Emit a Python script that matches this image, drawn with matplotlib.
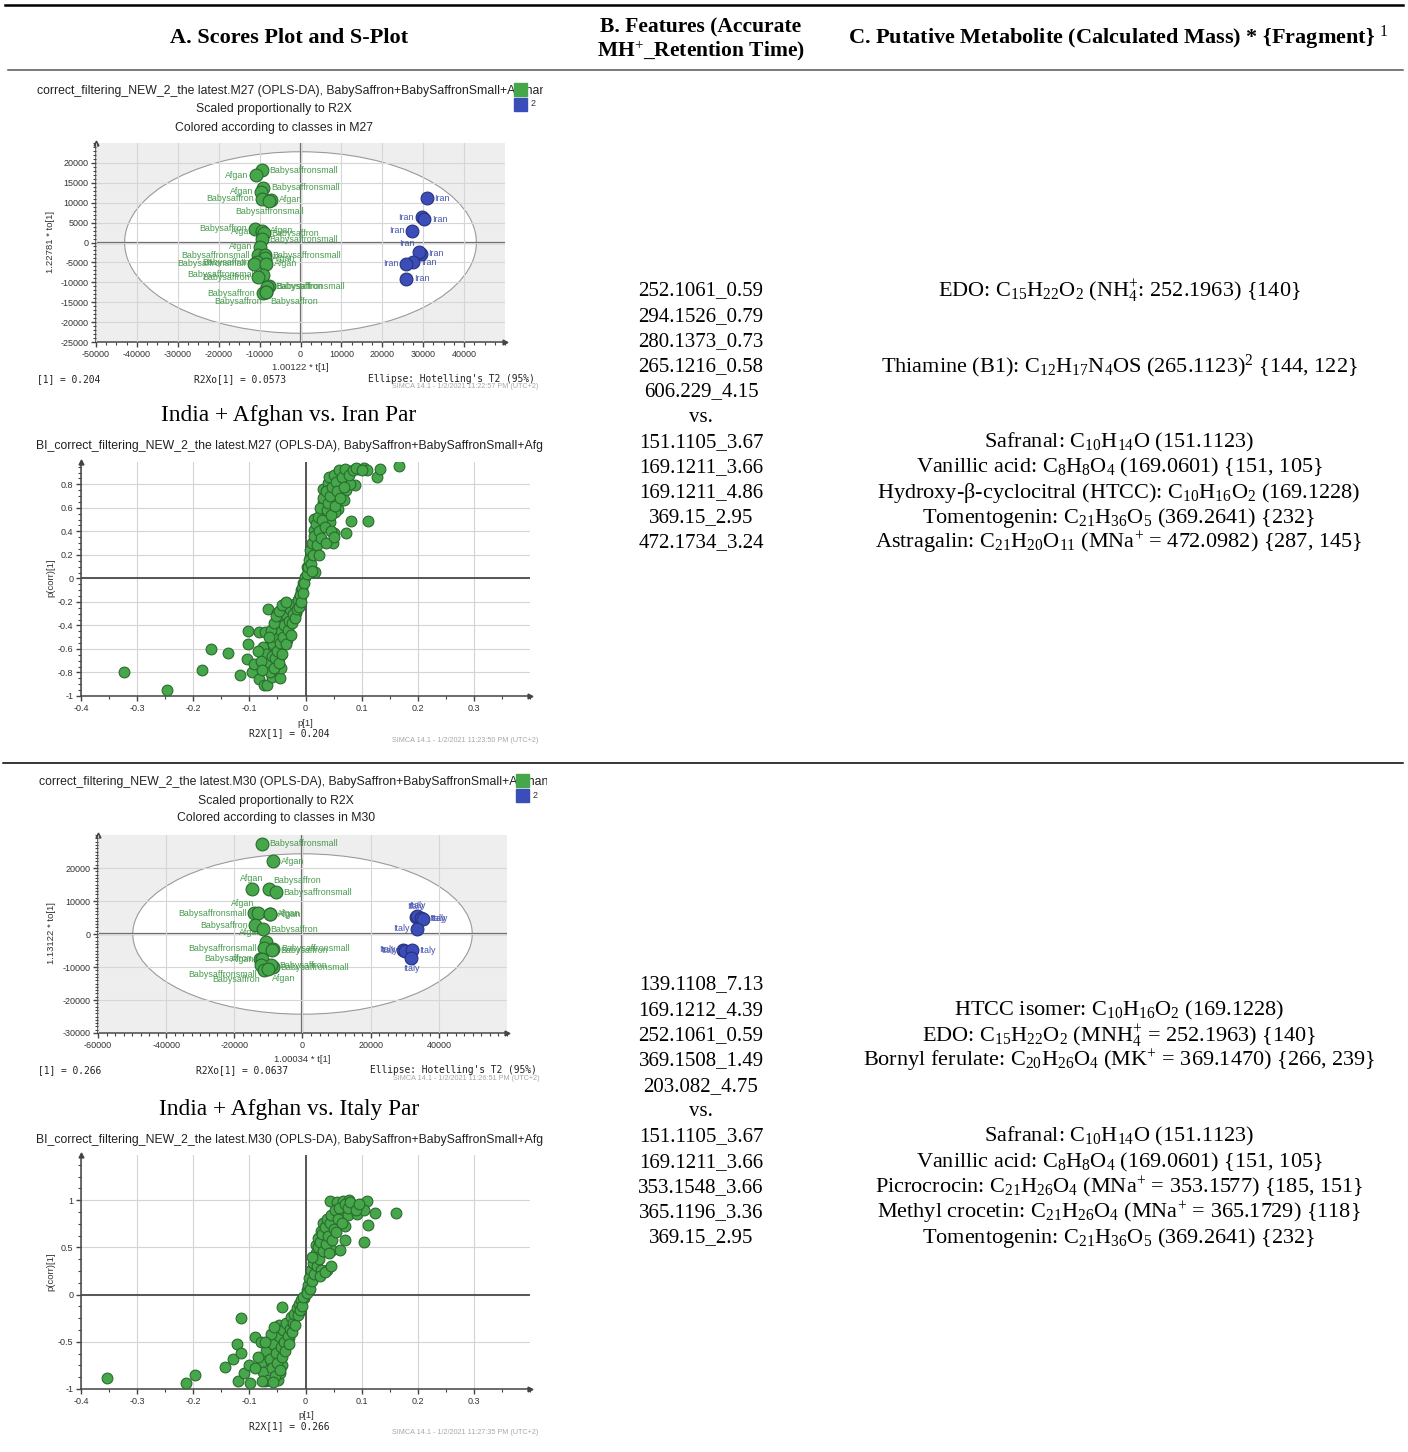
import matplotlib
matplotlib.use("Agg")
import matplotlib.pyplot as plt
import numpy as np
from matplotlib.patches import Ellipse, Rectangle
from matplotlib.lines import Line2D
from matplotlib.ticker import MultipleLocator

W, H = 1408, 1452
plt.rcParams['mathtext.fontset'] = 'custom'
plt.rcParams['mathtext.rm'] = 'Liberation Serif'
plt.rcParams['mathtext.it'] = 'Liberation Serif:italic'
plt.rcParams['mathtext.bf'] = 'Liberation Serif:bold'

SERIF = 'Liberation Serif'
SANS = 'Liberation Sans'
MONO = 'DejaVu Sans Mono'

# ---------------- table text ----------------
headers = ["A. Scores Plot and S-Plot",
           "B. Features (Accurate\nMH$^{+}$_Retention Time)",
           "C. Putative Metabolite (Calculated Mass) * {Fragment} $^{1}$"]
comparisons = ["India + Afghan vs. Iran Par", "India + Afghan vs. Italy Par"]

features_1 = ["252.1061_0.59", "294.1526_0.79", "280.1373_0.73", "265.1216_0.58",
              "606.229_4.15", "vs.", "151.1105_3.67", "169.1211_3.66",
              "169.1211_4.86", "369.15_2.95", "472.1734_3.24"]
metabolites_1 = [r"EDO: C$_{15}$H$_{22}$O$_{2}$ (NH$_{4}^{+}$: 252.1963) {140}", "", "",
                 r"Thiamine (B1): C$_{12}$H$_{17}$N$_{4}$OS (265.1123)$^{2}$ {144, 122}", "", "",
                 r"Safranal: C$_{10}$H$_{14}$O (151.1123)",
                 r"Vanillic acid: C$_{8}$H$_{8}$O$_{4}$ (169.0601) {151, 105}",
                 r"Hydroxy-β-cyclocitral (HTCC): C$_{10}$H$_{16}$O$_{2}$ (169.1228)",
                 r"Tomentogenin: C$_{21}$H$_{36}$O$_{5}$ (369.2641) {232}",
                 r"Astragalin: C$_{21}$H$_{20}$O$_{11}$ (MNa$^{+}$ = 472.0982) {287, 145}"]

features_2 = ["139.1108_7.13", "169.1212_4.39", "252.1061_0.59", "369.1508_1.49",
              "203.082_4.75", "vs.", "151.1105_3.67", "169.1211_3.66",
              "353.1548_3.66", "365.1196_3.36", "369.15_2.95"]
metabolites_2 = ["", r"HTCC isomer: C$_{10}$H$_{16}$O$_{2}$ (169.1228)",
                 r"EDO: C$_{15}$H$_{22}$O$_{2}$ (MNH$_{4}^{+}$ = 252.1963) {140}",
                 r"Bornyl ferulate: C$_{20}$H$_{26}$O$_{4}$ (MK$^{+}$ = 369.1470) {266, 239}", "", "",
                 r"Safranal: C$_{10}$H$_{14}$O (151.1123)",
                 r"Vanillic acid: C$_{8}$H$_{8}$O$_{4}$ (169.0601) {151, 105}",
                 r"Picrocrocin: C$_{21}$H$_{26}$O$_{4}$ (MNa$^{+}$ = 353.1577) {185, 151}",
                 r"Methyl crocetin: C$_{21}$H$_{26}$O$_{4}$ (MNa$^{+}$ = 365.1729) {118}",
                 r"Tomentogenin: C$_{21}$H$_{36}$O$_{5}$ (369.2641) {232}"]

# ---------------- scores plot M27 ----------------
m27_green_t = [-9500, -11000, -9100, -9700, -9400, -7100, -7600, -11200, -9300, -9300, -9000,
               -9400, -9900, -10400, -8800, -8800, -10600, -11400, -8400, -9100, -10400,
               -7800, -8100, -9200, -8400, -8400]
m27_green_to = [18100, 16900, 13800, 12700, 11000, 10800, 10400, 3500, 2700, 2900, 2300,
                800, -1100, -3200, -3200, -3900, -4900, -5300, -5300, -8100, -8700,
                -11000, -11100, -12700, -12500, -12500]
m27_green_lab = ["Babysaffronsmall", "Afgan", "Babysaffronsmall", "Afgan", "Babysaffron", "Afgan",
                 "Babysaffronsmall", "Babysaffron", "Afgan", "Afgan", "Babysaffron",
                 "Babysaffronsmall", "Afgan", "Babysaffronsmall", "Babysaffronsmall", "Afgan",
                 "Babysaffron", "Babysaffronsmall", "Afgan", "Babysaffronsmall", "Babysaffron",
                 "Babysaffronsmall", "Babysaffron", "Babysaffron", "Babysaffron", "Babysaffron"]
m27_green_side = ['r', 'l', 'r', 'l', 'l', 'r', 'b', 'l', 'l', 'r', 'r', 'r', 'l', 'l', 'r', 'r',
                  'l', 'l', 'r', 'l', 'l', 'r', 'r', 'l', 'bl', 'br']
m27_blue_t = [30900, 29600, 30200, 27300, 29400, 29000, 27600, 25900, 25900]
m27_blue_to = [11100, 6300, 5900, 2900, -2800, -2500, -4900, -5300, -9100]
m27_blue_lab = ["Iran"] * 9
m27_blue_side = ['r', 'l', 'r', 'l', 'r', 'tl', 'r', 'l', 'r']
m27_ellipse = (43000, 22800)

# ---------------- scores plot M30 ----------------
m30_green_t = [-12000, -8700, -14800, -9900, -7800, -14200, -13000, -9400, -9600, -13800, -11700,
               -10700, -11200, -8600, -8900, -12500, -12000, -8800, -9100, -12300, -11200, -10200]
m30_green_to = [27400, 22100, 13700, 13500, 12700, 6300, 6300, 6000, 6100, 2600, 1400,
                -2500, -4300, -4400, -4900, -7500, -7600, -10000, -9500, -9300, -11000, -10500]
m30_green_lab = ["Babysaffronsmall", "Afgan", "Afgan", "Babysaffron", "Babysaffronsmall",
                 "Babysaffronsmall", "Afgan", "Afgan", "Afgan", "Babysaffron", "Babysaffron",
                 "Afgan", "Babysaffronsmall", "Babysaffronsmall", "Babysaffron", "Babysaffron",
                 "Afgan", "Babysaffronsmall", "Babysaffron", "Babysaffronsmall", "Babysaffron", "Afgan"]
m30_green_side = ['r', 'r', 't', 'tr', 'r', 'l', 'tl', 'r', 'r', 'l', 'r',
                  'tl', 'l', 'r', 'r', 'l', 'l', 'r', 'r', 'bl', 'bl', 'br']
m30_blue_t = [33200, 33700, 34900, 35400, 33600, 29500, 30200, 32100, 31800]
m30_blue_to = [5200, 5500, 4800, 4600, 1600, -4700, -5000, -4900, -7200]
m30_blue_lab = ["Italy"] * 9
m30_blue_side = ['t', 't', 'r', 'r', 'l', 'l', 'l', 'r', 'b']
m30_ellipse = (49800, 24300)

# ---------------- S-plot M27 ----------------
s1_p = [-0.324, -0.247, -0.185, -0.168, -0.138, -0.117, -0.102, -0.102, -0.105, -0.096, -0.092,
        -0.083, -0.074, -0.068, -0.067, -0.083, -0.073, -0.060, -0.045, -0.043, -0.045, -0.069,
        -0.049, -0.055, -0.043, -0.036, -0.033, -0.036, -0.050, -0.027, -0.017, -0.012, -0.008,
        -0.004, -0.001, 0.003, 0.008, 0.015, 0.015, 0.015, 0.017, 0.017, 0.026, 0.029, 0.031,
        0.032, 0.040, 0.050, 0.049, 0.050, 0.058, 0.075, 0.094, 0.104, 0.110, 0.127, 0.132,
        0.167, 0.088, 0.073, 0.073, 0.081, 0.112, 0.058, 0.069, 0.053, 0.043, 0.066, 0.080,
        -0.075, -0.070, -0.066, -0.063, -0.060, -0.058, -0.056, -0.054, -0.052, -0.050, -0.048,
        -0.046, -0.044, -0.042, -0.040, -0.038, -0.036, -0.034, -0.032, -0.030, -0.028, -0.026,
        -0.024, -0.022, -0.020, -0.018, -0.016, -0.014, -0.012, -0.010, -0.008, -0.006, -0.004,
        -0.002, -0.062, -0.057, -0.053, -0.047, -0.041, -0.035, -0.065, -0.080, -0.085, -0.078,
        0.002, 0.004, 0.006, 0.008, 0.010, 0.012, 0.014, 0.016, 0.018, 0.020, 0.022, 0.024,
        0.026, 0.028, 0.030, 0.032, 0.034, 0.036, 0.038, 0.040, 0.042, 0.044, 0.046, 0.048,
        0.050, 0.052, 0.054, 0.056, 0.060, 0.062, 0.065, 0.068, 0.070, 0.078, 0.085, 0.090,
        0.100, 0.012, 0.024, 0.036, 0.045, 0.050]
s1_pcorr = [-0.797, -0.947, -0.780, -0.600, -0.636, -0.820, -0.450, -0.554, -0.684, -0.797, -0.727,
            -0.857, -0.905, -0.910, -0.260, -0.452, -0.458, -0.840, -0.845, -0.758, -0.664, -0.580,
            -0.600, -0.495, -0.376, -0.452, -0.523, -0.212, -0.297, -0.269, -0.297, -0.170, -0.099,
            -0.042, 0.014, 0.099, 0.184, 0.269, 0.410, 0.509, 0.339, 0.051, 0.416, 0.565, 0.650,
            0.763, 0.814, 0.707, 0.302, 0.387, 0.896, 0.913, 0.933, 0.939, 0.919, 0.862, 0.933,
            0.955, 0.797, 0.749, 0.390, 0.489, 0.489, 0.588, 0.664, 0.565, 0.480, 0.834, 0.806,
            -0.58, -0.64, -0.72, -0.80, -0.66, -0.56, -0.76, -0.68, -0.50, -0.62, -0.72,
            -0.55, -0.45, -0.64, -0.50, -0.40, -0.30, -0.56, -0.44, -0.36, -0.26, -0.48,
            -0.38, -0.30, -0.22, -0.34, -0.26, -0.18, -0.24, -0.14, -0.20, -0.08, -0.12,
            -0.04, -0.44, -0.38, -0.32, -0.28, -0.23, -0.20, -0.50, -0.70, -0.62, -0.78,
            0.04, 0.10, 0.16, 0.24, 0.12, 0.30, 0.20, 0.36, 0.46, 0.28, 0.52, 0.40,
            0.60, 0.34, 0.50, 0.68, 0.44, 0.74, 0.58, 0.64, 0.86, 0.70, 0.54, 0.78,
            0.88, 0.62, 0.82, 0.74, 0.92, 0.68, 0.86, 0.78, 0.93, 0.88, 0.92, 0.94,
            0.92, 0.06, 0.20, 0.30, 0.40, 0.35]

# ---------------- S-plot M30 ----------------
s2_p = [-0.354, -0.213, -0.197, -0.143, -0.129, -0.122, -0.115, -0.115, -0.121, -0.109, -0.099,
        -0.101, -0.090, -0.080, -0.073, -0.067, -0.049, -0.041, -0.045, -0.041, -0.070, -0.061,
        -0.048, -0.035, -0.029, -0.022, -0.010, -0.003, 0.003, 0.010, 0.013, 0.016, 0.019,
        0.022, 0.027, 0.032, 0.038, 0.041, 0.043, 0.048, 0.057, 0.062, 0.064, 0.067, 0.071,
        0.071, 0.075, 0.078, 0.085, 0.091, 0.100, 0.105, 0.111, 0.110, 0.123, 0.161, 0.105, 0.054,
        -0.080, -0.075, -0.070, -0.066, -0.064, -0.060, -0.058, -0.055, -0.052, -0.050, -0.048,
        -0.046, -0.044, -0.042, -0.040, -0.038, -0.036, -0.034, -0.032, -0.030, -0.028, -0.026,
        -0.024, -0.022, -0.020, -0.018, -0.016, -0.014, -0.012, -0.010, -0.008, -0.006, -0.004,
        -0.090, -0.085, -0.062, -0.056, -0.072, -0.078, -0.058,
        0.002, 0.004, 0.006, 0.008, 0.010, 0.012, 0.014, 0.016, 0.018, 0.020, 0.022, 0.024,
        0.026, 0.028, 0.030, 0.032, 0.034, 0.036, 0.038, 0.040, 0.042, 0.044, 0.046, 0.048,
        0.050, 0.052, 0.055, 0.058, 0.060, 0.065, 0.070, 0.075, 0.080, 0.090, 0.095, 0.025,
        0.035, 0.045, 0.012]
s2_pcorr = [-0.883, -0.933, -0.855, -0.767, -0.686, -0.519, -0.618, -0.247, -0.915, -0.830, -0.936,
            -0.742, -0.449, -0.505, -0.919, -0.900, -0.900, -0.134, -0.830, -0.742, -0.689, -0.459,
            -0.318, -0.318, -0.459, -0.247, -0.177, -0.035, 0.053, 0.141, 0.283, 0.389, 0.530,
            0.600, 0.678, 0.760, 0.265, 0.749, 0.996, 0.477, 0.982, 0.470, 0.883, 0.989, 0.724,
            0.576, 0.841, 1.007, 0.936, 0.855, 0.961, 0.558, 0.742, 0.989, 0.866, 0.866, 0.900, 0.813,
            -0.72, -0.82, -0.60, -0.90, -0.68, -0.78, -0.52, -0.86, -0.62, -0.72, -0.44,
            -0.80, -0.56, -0.66, -0.38, -0.50, -0.60, -0.30, -0.44, -0.52, -0.36, -0.24,
            -0.40, -0.30, -0.20, -0.32, -0.14, -0.22, -0.10, -0.16, -0.06, -0.12, -0.02,
            -0.78, -0.66, -0.42, -0.34, -0.50, -0.92, -0.93,
            0.02, 0.10, 0.18, 0.06, 0.26, 0.14, 0.34, 0.22, 0.44, 0.30, 0.50, 0.38,
            0.56, 0.26, 0.64, 0.46, 0.72, 0.54, 0.80, 0.62, 0.44, 0.76, 0.84, 0.58,
            0.70, 0.90, 0.66, 0.80, 0.92, 0.76, 0.96, 0.92, 0.98, 0.90, 0.96, 0.20,
            0.24, 0.30, 0.40]

GREEN = '#45a64a'
GREEN_EDGE = '#2a6b2e'
GREEN_TXT = '#479a4d'
BLUE = '#3b4db8'
BLUE_EDGE = '#27327a'
BLUE_TXT = '#4353ad'
TICK_C = '#333333'

OFFS = {'r': ((5.5, 0), 'left', 'center'), 'l': ((-5.5, 0), 'right', 'center'),
        't': ((0, 4.5), 'center', 'bottom'), 'b': ((0, -4.5), 'center', 'top'),
        'tl': ((-3, 3.5), 'right', 'bottom'), 'tr': ((3, 3.5), 'left', 'bottom'),
        'bl': ((-3, -3.5), 'right', 'top'), 'br': ((3, -3.5), 'left', 'top')}


def box(x0, y0, x1, y1):
    return [x0 / W, 1 - y1 / H, (x1 - x0) / W, (y1 - y0) / H]


fig = plt.figure(figsize=(W / 100, H / 100), dpi=100)


def ftext(x, y, s, **kw):
    fig.text(x / W, 1 - y / H, s, **kw)


def hline(x0, x1, y, **kw):
    fig.add_artist(Line2D([x0 / W, x1 / W], [1 - y / H, 1 - y / H], transform=fig.transFigure, **kw))


def clipped_title(x0, x1, y, s):
    a = fig.add_axes(box(x0, y - 10, x1, y + 10))
    a.axis('off')
    a.text(0, 0.5, s, ha='left', va='center', fontsize=8.8, family=SANS, color='#222222',
           transform=a.transAxes, clip_on=True)


def style_axis(ax, xlim, ylim, xticks, yticks, xlabels, ylabels, xminor, yminor):
    ax.set_xlim(*xlim)
    ax.set_ylim(*ylim)
    ax.set_xticks(xticks)
    ax.set_xticklabels(xlabels)
    ax.set_yticks(yticks)
    ax.set_yticklabels(ylabels)
    ax.xaxis.set_minor_locator(MultipleLocator(xminor))
    ax.yaxis.set_minor_locator(MultipleLocator(yminor))
    for s in ['top', 'right']:
        ax.spines[s].set_visible(False)
    for s in ['left', 'bottom']:
        ax.spines[s].set_color('#444444')
        ax.spines[s].set_linewidth(1.1)
    ax.tick_params(which='major', length=3.5, width=1, color='#444444', labelsize=6.5,
                   labelcolor=TICK_C, pad=2)
    ax.tick_params(which='minor', length=2, width=0.8, color='#444444')
    for lab in ax.get_xticklabels() + ax.get_yticklabels():
        lab.set_family(SANS)
    ax.plot([1], [0], marker='>', ms=3.5, color='#444444', transform=ax.transAxes, clip_on=False)
    ax.plot([0], [1], marker='^', ms=3.5, color='#444444', transform=ax.transAxes, clip_on=False)


def draw_scores(bx, xlim, ylim, xticks, yticks, ell, gt, gto, glab, gside, bt, bto, blab, bside):
    ax = fig.add_axes(box(*bx))
    ax.set_facecolor('#eeeeee')
    style_axis(ax, xlim, ylim, xticks, yticks, [str(v) for v in xticks],
               [str(v) for v in yticks], 2500, 1000)
    ax.add_patch(Ellipse((0, 0), 2 * ell[0], 2 * ell[1], facecolor='white',
                         edgecolor='#9a9a9a', lw=0.8, zorder=1))
    ax.grid(True, color='#d6d6d6', lw=0.8, zorder=1.5)
    ax.set_axisbelow(False)
    ax.axhline(0, color='#6a6a6a', lw=1.6, zorder=2)
    ax.axvline(0, color='#6a6a6a', lw=1.6, zorder=2)
    for xs, ys, labs, sides, fc, ec, tc in [(gt, gto, glab, gside, GREEN, GREEN_EDGE, GREEN_TXT),
                                            (bt, bto, blab, bside, BLUE, BLUE_EDGE, BLUE_TXT)]:
        ax.scatter(xs, ys, s=85, c=fc, edgecolors=ec, linewidths=0.8, zorder=5)
        for x, y, lab, sd in zip(xs, ys, labs, sides):
            off, ha, va = OFFS[sd]
            ax.annotate(lab, (x, y), xytext=off, textcoords='offset points', ha=ha, va=va,
                        fontsize=6.4, family=SANS, color=tc, zorder=4)
    return ax


def draw_splot(bx, ylim, yticks, ylabels, yminor, p, pc):
    ax = fig.add_axes(box(*bx))
    xt = [-0.4, -0.3, -0.2, -0.1, 0, 0.1, 0.2, 0.3]
    style_axis(ax, (-0.4, 0.4), ylim, xt, yticks,
               ['-0.4', '-0.3', '-0.2', '-0.1', '0', '0.1', '0.2', '0.3'], ylabels, 0.05, yminor)
    ax.grid(True, color='#d4d4d4', lw=0.8, zorder=0)
    ax.set_axisbelow(True)
    ax.axhline(0, color='#555555', lw=1.4, zorder=2)
    ax.axvline(0, color='#555555', lw=1.4, zorder=2)
    ax.scatter(p, pc, s=60, c=GREEN, edgecolors=GREEN_EDGE, linewidths=0.8, zorder=5)
    return ax


# ---------------- rules & headers ----------------
hline(5, 1403, 5, color='black', lw=1.8)
hline(8, 1403, 70, color='#555555', lw=1.1)
hline(3, 1403, 763, color='black', lw=1.1)

ftext(289, 38, headers[0], ha='center', va='center', fontsize=16, family=SERIF, weight='bold')
ftext(701, 40, headers[1], ha='center', va='center', fontsize=15.5, family=SERIF, weight='bold',
      linespacing=1.1)
ftext(1118, 38, headers[2], ha='center', va='center', fontsize=16, family=SERIF, weight='bold')

for i, (f, m) in enumerate(zip(features_1, metabolites_1)):
    y = 291 + i * 25.2
    ftext(701, y, f, ha='center', va='center', fontsize=15, family=SERIF)
    if m:
        ftext(1119, y, m, ha='center', va='center', fontsize=16, family=SERIF)
for i, (f, m) in enumerate(zip(features_2, metabolites_2)):
    y = 985 + i * 25.3
    ftext(701, y, f, ha='center', va='center', fontsize=15, family=SERIF)
    if m:
        ftext(1119, y, m, ha='center', va='center', fontsize=16, family=SERIF)

ftext(289, 416, comparisons[0], ha='center', va='center', fontsize=16.8, family=SERIF)
ftext(289, 1109, comparisons[1], ha='center', va='center', fontsize=16.8, family=SERIF)

# ---------------- panel 1: M27 scores ----------------
clipped_title(37, 543, 91, "correct_filtering_NEW_2_the latest.M27 (OPLS-DA), BabySaffron+BabySaffronSmall+Afghan")
ftext(274, 109, "Scaled proportionally to R2X", ha='center', va='center', fontsize=8.8, family=SANS, color='#222222')
ftext(274, 128, "Colored according to classes in M27", ha='center', va='center', fontsize=8.8, family=SANS, color='#222222')
fig.add_artist(Rectangle((514 / W, 1 - 96 / H), 13 / W, 13 / H, transform=fig.transFigure, color=GREEN))
fig.add_artist(Rectangle((514 / W, 1 - 111 / H), 13 / W, 13 / H, transform=fig.transFigure, color=BLUE))
ftext(531, 104, "2", ha='left', va='center', fontsize=6.5, family=SANS, color='#333333')

draw_scores((96, 143, 505, 342), (-50000, 50000), (-25000, 25000),
            list(range(-50000, 40001, 10000)), list(range(-25000, 20001, 5000)), m27_ellipse,
            m27_green_t, m27_green_to, m27_green_lab, m27_green_side,
            m27_blue_t, m27_blue_to, m27_blue_lab, m27_blue_side)
ftext(300, 368, "1.00122 * t[1]", ha='center', va='center', fontsize=6.8, family=SANS, color=TICK_C)
ftext(50, 242, "1.22781 * to[1]", ha='center', va='center', fontsize=6.8, family=SANS, color=TICK_C, rotation=90)
ftext(37, 379, "[1] = 0.204", ha='left', va='center', fontsize=6.9, family=MONO, color='#222222')
ftext(240, 379, "R2Xo[1] = 0.0573", ha='center', va='center', fontsize=6.9, family=MONO, color='#222222')
ftext(535, 379, "Ellipse: Hotelling's T2 (95%)", ha='right', va='center', fontsize=6.9, family=MONO, color='#222222')
ftext(538, 387, "SIMCA 14.1 - 1/2/2021 11:22:57 PM (UTC+2)", ha='right', va='center', fontsize=5.2, family=SANS, color='#a8a8a8')

# ---------------- panel 2: M27 S-plot ----------------
clipped_title(36, 543, 446, "BI_correct_filtering_NEW_2_the latest.M27 (OPLS-DA), BabySaffron+BabySaffronSmall+Afghan")
draw_splot((81, 462, 530, 696), (-1, 0.99), [-1, -0.8, -0.6, -0.4, -0.2, 0, 0.2, 0.4, 0.6, 0.8],
           ['-1', '-0.8', '-0.6', '-0.4', '-0.2', '0', '0.2', '0.4', '0.6', '0.8'], 0.05, s1_p, s1_pcorr)
ftext(51, 578, "p(corr)[1]", ha='center', va='center', fontsize=6.8, family=SANS, color=TICK_C, rotation=90)
ftext(305, 723, "p[1]", ha='center', va='center', fontsize=6.8, family=SANS, color=TICK_C)
ftext(289, 733, "R2X[1] = 0.204", ha='center', va='center', fontsize=6.9, family=MONO, color='#222222')
ftext(538, 740, "SIMCA 14.1 - 1/2/2021 11:23:50 PM (UTC+2)", ha='right', va='center', fontsize=5.2, family=SANS, color='#a8a8a8')

# ---------------- panel 3: M30 scores ----------------
clipped_title(39, 547, 782, "correct_filtering_NEW_2_the latest.M30 (OPLS-DA), BabySaffron+BabySaffronSmall+Afghan")
ftext(276, 801, "Scaled proportionally to R2X", ha='center', va='center', fontsize=8.8, family=SANS, color='#222222')
ftext(276, 818, "Colored according to classes in M30", ha='center', va='center', fontsize=8.8, family=SANS, color='#222222')
fig.add_artist(Rectangle((516 / W, 1 - 787 / H), 13 / W, 13 / H, transform=fig.transFigure, color=GREEN))
fig.add_artist(Rectangle((516 / W, 1 - 802 / H), 13 / W, 13 / H, transform=fig.transFigure, color=BLUE))
ftext(533, 796, "2", ha='left', va='center', fontsize=6.5, family=SANS, color='#333333')

draw_scores((98, 835, 507, 1033), (-60000, 60000), (-30000, 30000),
            list(range(-60000, 40001, 20000)), list(range(-30000, 20001, 10000)), m30_ellipse,
            m30_green_t, m30_green_to, m30_green_lab, m30_green_side,
            m30_blue_t, m30_blue_to, m30_blue_lab, m30_blue_side)
ftext(302, 1060, "1.00034 * t[1]", ha='center', va='center', fontsize=6.8, family=SANS, color=TICK_C)
ftext(52, 933, "1.13122 * to[1]", ha='center', va='center', fontsize=6.8, family=SANS, color=TICK_C, rotation=90)
ftext(38, 1070, "[1] = 0.266", ha='left', va='center', fontsize=6.9, family=MONO, color='#222222')
ftext(242, 1070, "R2Xo[1] = 0.0637", ha='center', va='center', fontsize=6.9, family=MONO, color='#222222')
ftext(537, 1070, "Ellipse: Hotelling's T2 (95%)", ha='right', va='center', fontsize=6.9, family=MONO, color='#222222')
ftext(540, 1078, "SIMCA 14.1 - 1/2/2021 11:26:51 PM (UTC+2)", ha='right', va='center', fontsize=5.2, family=SANS, color='#a8a8a8')

# ---------------- panel 4: M30 S-plot ----------------
clipped_title(36, 543, 1140, "BI_correct_filtering_NEW_2_the latest.M30 (OPLS-DA), BabySaffron+BabySaffronSmall+Afghan")
draw_splot((81, 1155, 530, 1389), (-1, 1.48), [-1, -0.5, 0, 0.5, 1],
           ['-1', '-0.5', '0', '0.5', '1'], 0.125, s2_p, s2_pcorr)
ftext(51, 1272, "p(corr)[1]", ha='center', va='center', fontsize=6.8, family=SANS, color=TICK_C, rotation=90)
ftext(306, 1415, "p[1]", ha='center', va='center', fontsize=6.8, family=SANS, color=TICK_C)
ftext(289, 1426, "R2X[1] = 0.266", ha='center', va='center', fontsize=6.9, family=MONO, color='#222222')
ftext(538, 1433, "SIMCA 14.1 - 1/2/2021 11:27:35 PM (UTC+2)", ha='right', va='center', fontsize=5.2, family=SANS, color='#a8a8a8')

fig.savefig("out.png", dpi=100)
